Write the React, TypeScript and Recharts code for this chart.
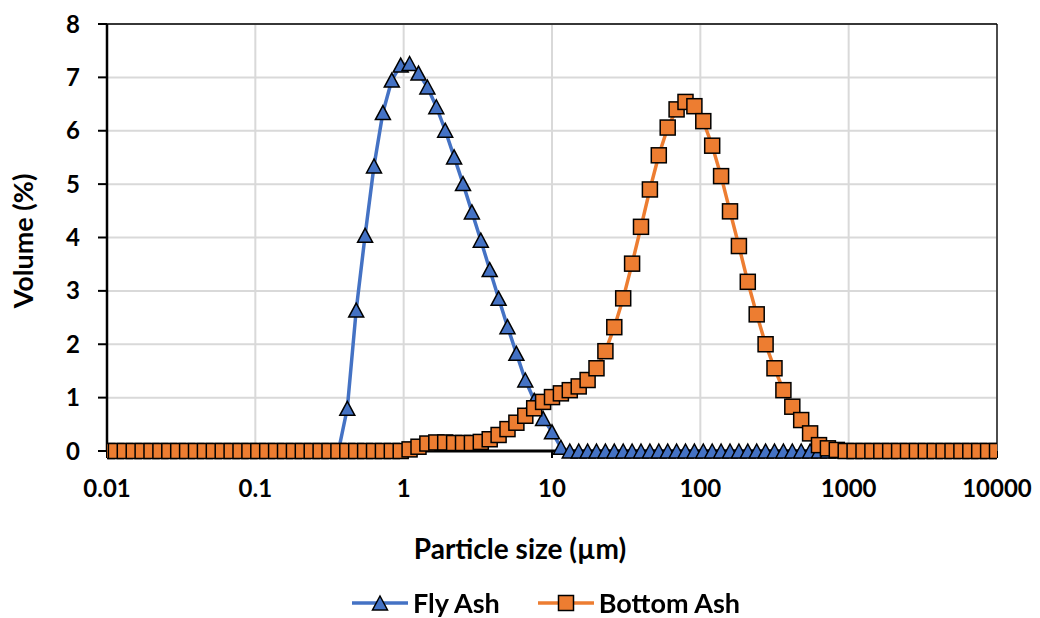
import { CartesianGrid, Legend, Line, LineChart, ReferenceLine, XAxis, YAxis } from "recharts"

// particle size bins (µm)
const sizes = [
  0.01, 0.01148, 0.01318, 0.01514, 0.01738, 0.01995, 0.02291, 0.0263, 0.0302, 0.03467,
  0.03981, 0.04571, 0.05248, 0.06026, 0.06918, 0.07943, 0.0912, 0.1047, 0.1202, 0.138,
  0.1585, 0.182, 0.2089, 0.2399, 0.2754, 0.3162, 0.3631, 0.4169, 0.4786, 0.5495,
  0.631, 0.7244, 0.8318, 0.955, 1.096, 1.259, 1.445, 1.66, 1.905, 2.188,
  2.512, 2.884, 3.311, 3.802, 4.365, 5.012, 5.754, 6.607, 7.586, 8.71,
  10, 11.48, 13.18, 15.14, 17.38, 19.95, 22.91, 26.3, 30.2, 34.67,
  39.81, 45.71, 52.48, 60.26, 69.18, 79.43, 91.2, 104.7, 120.2, 138,
  158.5, 182, 208.9, 239.9, 275.4, 316.2, 363.1, 416.9, 478.6, 549.5,
  631, 724.4, 831.8, 955, 1096, 1259, 1445, 1660, 1905, 2188,
  2512, 2884, 3311, 3802, 4365, 5012, 5754, 6607, 7586, 8710,
  10000,
]

const flyAsh = [
  0, 0, 0, 0, 0, 0, 0, 0, 0, 0,
  0, 0, 0, 0, 0, 0, 0, 0, 0, 0,
  0, 0, 0, 0, 0, 0, 0, 0.8, 2.64, 4.04,
  5.34, 6.34, 6.95, 7.23, 7.26, 7.08, 6.82, 6.45, 6.01, 5.51,
  5.01, 4.48, 3.95, 3.4, 2.86, 2.33, 1.83, 1.33, 0.95, 0.61,
  0.36, 0.07, 0, 0, 0, 0, 0, 0, 0, 0,
  0, 0, 0, 0, 0, 0, 0, 0, 0, 0,
  0, 0, 0, 0, 0, 0, 0, 0, 0, 0,
  0, 0, 0, 0, 0, 0, 0, 0, 0, 0,
  0, 0, 0, 0, 0, 0, 0, 0, 0, 0,
  0,
]

const bottomAsh = [
  0, 0, 0, 0, 0, 0, 0, 0, 0, 0,
  0, 0, 0, 0, 0, 0, 0, 0, 0, 0,
  0, 0, 0, 0, 0, 0, 0, 0, 0, 0,
  0, 0, 0, 0, 0.03, 0.08, 0.14, 0.16, 0.16, 0.15,
  0.15, 0.15, 0.17, 0.22, 0.3, 0.41, 0.53, 0.66, 0.8, 0.92,
  1.01, 1.08, 1.14, 1.21, 1.33, 1.55, 1.87, 2.32, 2.86, 3.51,
  4.2, 4.9, 5.54, 6.06, 6.4, 6.54, 6.46, 6.18, 5.72, 5.15,
  4.49, 3.84, 3.17, 2.56, 2.0, 1.55, 1.14, 0.83, 0.58, 0.33,
  0.11, 0.05, 0.02, 0, 0, 0, 0, 0, 0, 0,
  0, 0, 0, 0, 0, 0, 0, 0, 0, 0,
  0,
]

const xTicks = [0.01, 0.1, 1, 10, 100, 1000, 10000]
const yTicks = [0, 1, 2, 3, 4, 5, 6, 7, 8]
const seriesOrder = ["fly", "bottom"]

const BLUE = "#4472C4"
const ORANGE = "#ED7D31"
const FONT = "Lato, 'Open Sans', sans-serif"

const data = sizes.map((size, i) => ({
  size,
  fly: flyAsh[i],
  bottom: bottomAsh[i],
}))

function trianglePath(cx: number, cy: number, w: number, h: number) {
  return `M${cx},${cy - h / 2} L${cx + w / 2},${cy + h / 2} L${cx - w / 2},${cy + h / 2} Z`
}

const TriangleDot = (props: any) => {
  const { cx, cy, index } = props
  if (cx == null || cy == null) return <g key={`t-${index}`} />
  return (
    <path
      key={`t-${index}`}
      d={trianglePath(cx, cy, 15, 14)}
      fill={BLUE}
      stroke="#000"
      strokeWidth={1.5}
    />
  )
}

const SquareDot = (props: any) => {
  const { cx, cy, index } = props
  if (cx == null || cy == null) return <g key={`s-${index}`} />
  return (
    <rect
      key={`s-${index}`}
      x={cx - 7.5}
      y={cy - 7.5}
      width={15}
      height={15}
      fill={ORANGE}
      stroke="#000"
      strokeWidth={1.5}
    />
  )
}

const LegendContent = (props: any) => {
  const payload = [...(props.payload || [])].sort(
    (a: any, b: any) => seriesOrder.indexOf(a.dataKey) - seriesOrder.indexOf(b.dataKey)
  )
  return (
    <div style={{ display: "flex", justifyContent: "center", alignItems: "center", gap: 38 }}>
      {payload.map((entry: any, index: number) => {
        const isFly = entry.dataKey === "fly"
        return (
          <div key={`legend-${index}`} style={{ display: "flex", alignItems: "center" }}>
            <svg width={56} height={20}>
              <line x1={0} y1={10} x2={56} y2={10} stroke={isFly ? BLUE : ORANGE} strokeWidth={3.5} />
              {isFly ? (
                <path d={trianglePath(28, 10, 15, 14)} fill={BLUE} stroke="#000" strokeWidth={1.5} />
              ) : (
                <rect x={20.5} y={2.5} width={15} height={15} fill={ORANGE} stroke="#000" strokeWidth={1.5} />
              )}
            </svg>
            <span
              style={{
                marginLeft: 5,
                fontSize: 27,
                lineHeight: "27px",
                fontWeight: 700,
                color: "#000",
                fontFamily: FONT,
                whiteSpace: "nowrap",
              }}
            >
              {entry.value}
            </span>
          </div>
        )
      })}
    </div>
  )
}

export default function App() {
  const tickStyle = { fill: "#000", fontSize: 24, fontWeight: 700, fontFamily: FONT }
  return (
    <div
      style={{
        position: "fixed",
        left: 0,
        top: 0,
        width: 1040,
        height: 618,
        background: "#fff",
        fontFamily: FONT,
      }}
    >
      <LineChart width={1040} height={618} data={data} margin={{ top: 24, right: 43, left: 47, bottom: 127 }}>
        <CartesianGrid stroke="#d9d9d9" strokeWidth={2} />
        <XAxis
          dataKey="size"
          type="number"
          scale="log"
          domain={[0.01, 10000]}
          ticks={xTicks}
          interval={0}
          allowDataOverflow
          tickFormatter={(v) => String(v)}
          height={40}
          tickSize={7}
          tickMargin={22}
          axisLine={{ stroke: "#000", strokeWidth: 3 }}
          tickLine={{ stroke: "#000", strokeWidth: 2 }}
          tick={tickStyle}
        />
        <YAxis
          type="number"
          domain={[0, 8]}
          ticks={yTicks}
          interval={0}
          width={60}
          tickSize={9}
          tickMargin={18}
          axisLine={{ stroke: "#000", strokeWidth: 2.5 }}
          tickLine={{ stroke: "#000", strokeWidth: 2 }}
          tick={tickStyle}
        />
        <ReferenceLine y={8} stroke="#000" strokeWidth={1.3} />
        <ReferenceLine x={10000} stroke="#000" strokeWidth={1.3} />
        <Line
          dataKey="fly"
          name="Fly Ash"
          stroke={BLUE}
          strokeWidth={3.5}
          dot={TriangleDot}
          activeDot={false}
          isAnimationActive={false}
        />
        <Line
          dataKey="bottom"
          name="Bottom Ash"
          stroke={ORANGE}
          strokeWidth={3.5}
          dot={SquareDot}
          activeDot={false}
          isAnimationActive={false}
        />
        <Legend
          layout="horizontal"
          verticalAlign="middle"
          align="center"
          content={LegendContent}
          wrapperStyle={{ position: "absolute", top: 589, left: 26, width: 1040 }}
        />
      </LineChart>
      <div
        style={{
          position: "absolute",
          left: 520,
          top: 548,
          transform: "translate(-50%, -50%)",
          fontSize: 28,
          fontWeight: 700,
          whiteSpace: "nowrap",
          color: "#000",
        }}
      >
        Particle size (µm)
      </div>
      <div
        style={{
          position: "absolute",
          left: 22,
          top: 241,
          transform: "translate(-50%, -50%) rotate(-90deg)",
          fontSize: 27,
          fontWeight: 700,
          whiteSpace: "nowrap",
          color: "#000",
        }}
      >
        Volume (%)
      </div>
    </div>
  )
}
